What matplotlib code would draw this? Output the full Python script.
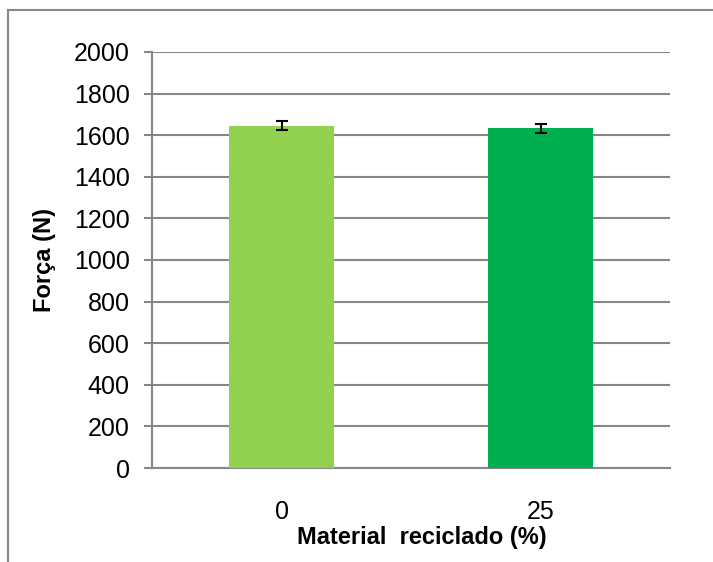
import matplotlib.pyplot as plt
from matplotlib.patches import Rectangle
import numpy as np

categories = ['0', '25']
forca = [1645, 1633]
erro = [21, 23]
cores = ['#92D050', '#00B050']

fig = plt.figure(figsize=(7.13, 5.62), dpi=100)
ax = fig.add_axes([152 / 713, 1 - 468 / 562, 518 / 713, 416 / 562])

x = np.arange(len(categories))
ax.bar(x, forca, width=0.405, color=cores, zorder=3)
ax.errorbar(x, forca, yerr=erro, fmt='none', ecolor='black', elinewidth=1.5,
            capsize=4.5, capthick=1.5, zorder=4)

ax.set_xlim(-0.5, 1.5)
ax.set_ylim(0, 2000)
ax.set_yticks(np.arange(0, 2001, 200))
ax.set_xticks(x)
ax.set_xticklabels(categories)
ax.grid(axis='y', color='#878787', linewidth=1.5, zorder=0)

for s in ['top', 'right']:
    ax.spines[s].set_visible(False)
for s in ['left', 'bottom']:
    ax.spines[s].set_color('#878787')
    ax.spines[s].set_linewidth(1.5)

ax.tick_params(axis='y', length=6, width=1.5, color='#878787', pad=10,
               labelsize=18)
ax.tick_params(axis='x', length=0, pad=23, labelsize=18)
for lab in ax.get_xticklabels() + ax.get_yticklabels():
    lab.set_family(['Liberation Sans', 'DejaVu Sans'])

ax.text(0.52, -0.167, 'Material  reciclado (%)', transform=ax.transAxes,
        ha='center', va='center', fontsize=17, fontweight='bold',
        family=['Liberation Sans', 'DejaVu Sans'])
ax.text(-0.207, 0.5, 'Força (N)', transform=ax.transAxes, rotation=90,
        ha='center', va='center', fontsize=17, fontweight='bold',
        family=['Liberation Sans', 'DejaVu Sans'])

# moldura do gráfico (cortada à direita e em baixo)
fig.patches.append(Rectangle((8 / 713, -0.1), 1.2, (562 - 10) / 562 + 0.1,
                             transform=fig.transFigure, fill=False,
                             edgecolor='#878787', linewidth=1.5))

fig.savefig('out.png', dpi=100)
